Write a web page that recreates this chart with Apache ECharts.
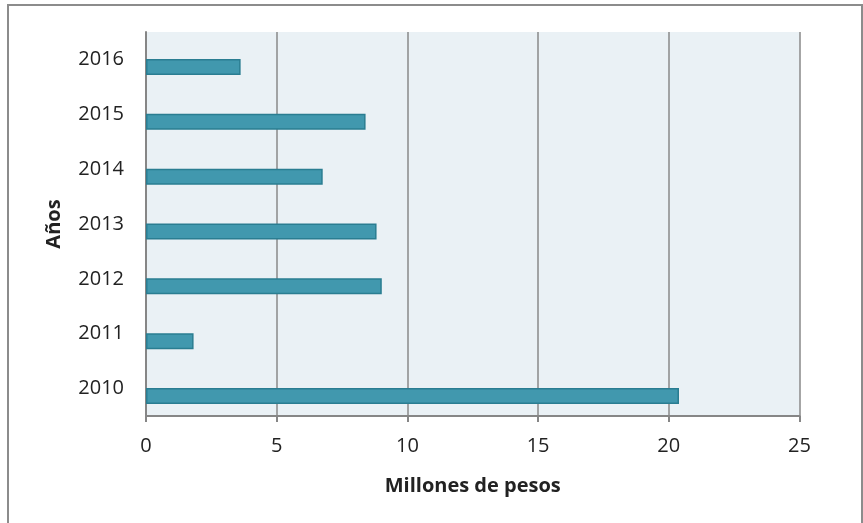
<!DOCTYPE html>
<html>
<head>
<meta charset="utf-8">
<script src="https://cdn.jsdelivr.net/npm/echarts@6/dist/echarts.min.js"></script>
<style>
html,body{margin:0;padding:0;background:#fff;}
#chart{width:863px;height:523px;}
</style>
</head>
<body>
<div id="chart"></div>
<script>
const years = ['2010','2011','2012','2013','2014','2015','2016'];
const values = [20.39, 1.82, 9.02, 8.82, 6.76, 8.40, 3.62];
const emptyValues = [null, null, null, null, null, null, null];
const xTicks = {min: 0, max: 25, interval: 5};
const xTitle = 'Millones de pesos';
const yTitle = 'Años';

const chart = echarts.init(document.getElementById('chart'), null, {renderer: 'canvas'});
const font = '"Open Sans", "Noto Sans", sans-serif';
chart.setOption({
  animation: false,
  backgroundColor: '#ffffff',
  graphic: [{
    type: 'rect',
    shape: {x: 8, y: 5, width: 854, height: 540},
    style: {fill: 'none', stroke: '#8c8c8c', lineWidth: 2},
    silent: true
  }],
  grid: {
    left: 146, right: 63.5, top: 32, bottom: 107,
    show: true, backgroundColor: '#EAF1F5', borderWidth: 0
  },
  xAxis: {
    type: 'value',
    min: xTicks.min, max: xTicks.max, interval: xTicks.interval,
    name: xTitle,
    nameLocation: 'middle',
    nameGap: 60,
    nameTextStyle: {fontFamily: font, fontSize: 20, fontWeight: 'bold', color: '#222'},
    axisLine: {show: true, lineStyle: {color: '#868686', width: 2}},
    axisTick: {show: true, length: 6, lineStyle: {color: '#868686', width: 2}},
    axisLabel: {fontFamily: font, fontSize: 20, color: '#222', margin: 20},
    splitLine: {show: true, lineStyle: {color: '#888888', width: 1.5}}
  },
  yAxis: {
    type: 'category',
    data: years,
    name: yTitle,
    nameLocation: 'middle',
    nameRotate: 90,
    nameGap: 82,
    nameTextStyle: {fontFamily: font, fontSize: 20, fontWeight: 'bold', color: '#222'},
    axisLine: {show: true, lineStyle: {color: '#868686', width: 2}},
    axisTick: {show: false},
    axisLabel: {fontFamily: font, fontSize: 20, color: '#222', margin: 22},
    splitLine: {show: false}
  },
  series: [{
    type: 'bar',
    data: emptyValues,
    barWidth: 16,
    barGap: '-6.25%',
    silent: true
  }, {
    type: 'bar',
    data: values,
    barWidth: 16,
    barGap: '-6.25%',
    itemStyle: {color: '#4198AE', borderColor: '#2A7D91', borderWidth: 1.5}
  }]
});
</script>
</body>
</html>
